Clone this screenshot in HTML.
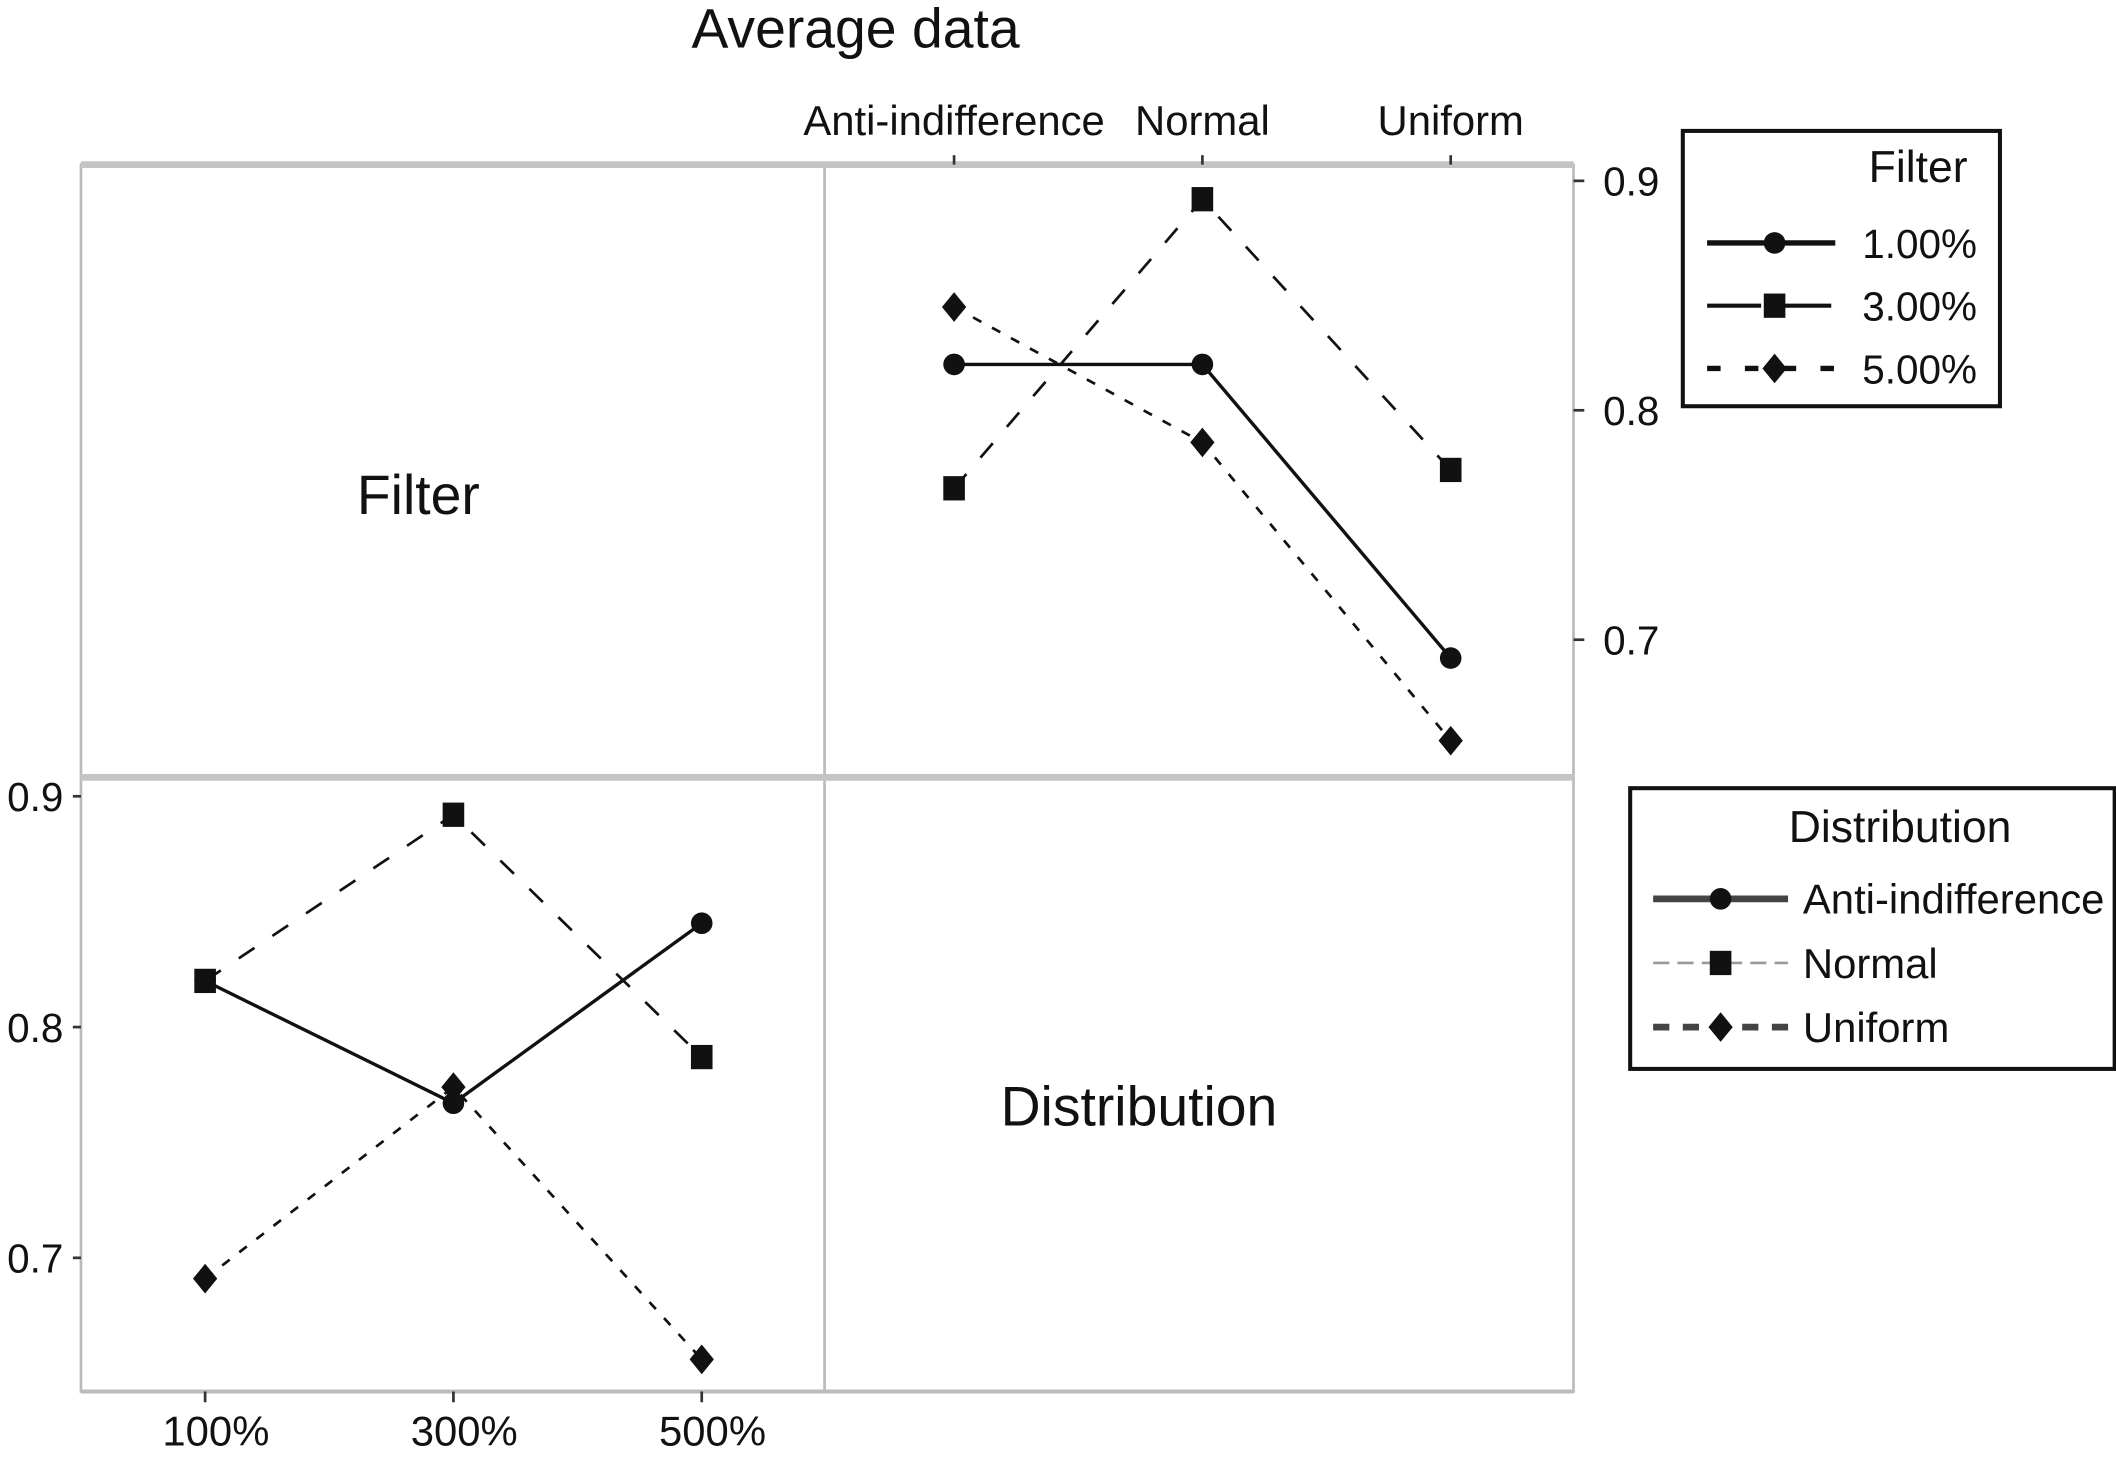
<!DOCTYPE html>
<html><head><meta charset="utf-8"><style>
html,body{margin:0;padding:0;background:#fff;}
svg{display:block;}
text{font-family:"Liberation Sans",Arial,sans-serif;fill:#111;}
</style></head><body>
<svg id="chart" width="2116" height="1463" viewBox="0 0 1568 1084" preserveAspectRatio="none" xmlns="http://www.w3.org/2000/svg">
<rect width="1568" height="1084" fill="#fff"/>
<text x="634" y="35" font-size="41" text-anchor="middle">Average data</text>
<g id="frame">
  <rect x="60" y="122" width="1106" height="909" fill="none" stroke="#bbb" stroke-width="2"/>
  <line x1="611" y1="122" x2="611" y2="1031" stroke="#bbb" stroke-width="2"/>
  <line x1="60" y1="122" x2="1166" y2="122" stroke="#c4c4c4" stroke-width="5"/>
  <line x1="60" y1="576" x2="1166" y2="576" stroke="#c4c4c4" stroke-width="5"/>
  <line x1="60" y1="1031" x2="1166" y2="1031" stroke="#bbb" stroke-width="3"/>
</g>
<text x="310" y="381" font-size="41" text-anchor="middle">Filter</text>
<text x="844" y="834" font-size="41" text-anchor="middle">Distribution</text>
<g id="tr"></g>
<g id="bl"></g>
<g id="legends">
  <rect x="1247" y="97" width="235" height="204" fill="#fff" stroke="#111" stroke-width="3"/>
  <text x="1458" y="135" font-size="33" text-anchor="end">Filter</text>
  <rect x="1208" y="584" width="359" height="208" fill="#fff" stroke="#111" stroke-width="3"/>
  <text x="1408" y="624" font-size="33" text-anchor="middle">Distribution</text>
</g>
</svg>
<script>
const distCats = ["Anti-indifference","Normal","Uniform"];
const filterCats = ["1.00%","3.00%","5.00%"];
const filterTickLabels = ["100%","300%","500%"];
const yTicks = [0.9,0.8,0.7];
// Top-right panel: lines = filter, x = distribution
const filter1 = [0.820,0.820,0.692];
const filter3 = [0.766,0.892,0.774];
const filter5 = [0.845,0.786,0.656];
// Bottom-left panel: lines = distribution, x = filter
const distAnti = [0.820,0.767,0.845];
const distNormal = [0.820,0.892,0.787];
const distUniform = [0.691,0.774,0.656];

const NS="http://www.w3.org/2000/svg";
const svg=document.getElementById('chart');
function mk(tag,attrs,parent){const e=document.createElementNS(NS,tag);for(const k in attrs)e.setAttribute(k,attrs[k]);(parent||svg).appendChild(e);return e;}
const xTR=i=>707+i*184;
const yTR=v=>304-(v-0.8)*1700;
const xBL=i=>152+i*184;
const yBL=v=>761-(v-0.8)*1710;
const styles=[
 {dash:"",w:2.5,marker:"circle"},
 {dash:"14 16",w:2,marker:"square"},
 {dash:"7 9",w:2,marker:"diamond"}
];
function marker(type,x,y,g){
  let e;
  if(type==="circle") e=mk('circle',{cx:x,cy:y,r:8,fill:'#111'},g);
  else if(type==="square") e=mk('rect',{x:x-8,y:y-9,width:16,height:18,fill:'#111'},g);
  else e=mk('polygon',{points:`${x},${y-11} ${x+9},${y} ${x},${y+11} ${x-9},${y}`,fill:'#111'},g);
  return e;
}
function series(g,vals,xf,yf,st,name){
  const pts=vals.map((v,i)=>xf(i)+","+yf(v)).join(" ");
  const pl=mk('polyline',{points:pts,fill:'none',stroke:'#111','stroke-width':st.w,'stroke-dasharray':st.dash},g);
  
  
  vals.forEach((v,i)=>{const m=marker(st.marker,xf(i),yf(v),g);
    
    });
}
const tr=document.getElementById('tr'), bl=document.getElementById('bl');
distCats.forEach((c,i)=>{const t=mk('text',{x:xTR(i),y:100,'font-size':31,'text-anchor':'middle'},tr);t.textContent=c;
  
  
  mk('line',{x1:xTR(i),y1:115,x2:xTR(i),y2:122,stroke:'#333','stroke-width':2},tr);});
yTicks.forEach(v=>{const t=mk('text',{x:1188,y:yTR(v)+11,'font-size':30},tr);t.textContent=v.toFixed(1);
  
  
  mk('line',{x1:1166,y1:yTR(v),x2:1174,y2:yTR(v),stroke:'#333','stroke-width':2},tr);});
yTicks.forEach(v=>{const t=mk('text',{x:47,y:yBL(v)+11,'font-size':30,'text-anchor':'end'},bl);t.textContent=v.toFixed(1);
  
  
  mk('line',{x1:54,y1:yBL(v),x2:60,y2:yBL(v),stroke:'#333','stroke-width':2},bl);});
filterTickLabels.forEach((c,i)=>{const t=mk('text',{x:xBL(i)+8,y:1071,'font-size':31,'text-anchor':'middle'},bl);t.textContent=c;
  
  
  mk('line',{x1:xBL(i),y1:1031,x2:xBL(i),y2:1039,stroke:'#333','stroke-width':2},bl);});
series(tr,filter1,xTR,yTR,styles[0],'filter-1pct');
series(tr,filter3,xTR,yTR,styles[1],'filter-3pct');
series(tr,filter5,xTR,yTR,styles[2],'filter-5pct');
series(bl,distAnti,xBL,yBL,styles[0],'dist-anti-indifference');
series(bl,distNormal,xBL,yBL,styles[1],'dist-normal');
series(bl,distUniform,xBL,yBL,styles[2],'dist-uniform');
const lg=document.getElementById('legends');
const legStyles=[{dash:"",w:4},{dash:"40 12",w:3},{dash:"10 18",w:4}];
filterCats.forEach((c,i)=>{const y=180+i*46.5;
  const l=mk('line',{x1:1265,y1:y,x2:1360,y2:y,stroke:'#111','stroke-width':legStyles[i].w,'stroke-dasharray':legStyles[i].dash},lg);
  
  
  marker(styles[i].marker,1315,y,lg);
  const t=mk('text',{x:1380,y:y+11,'font-size':30},lg);t.textContent=c;
  
  });
distCats.forEach((c,i)=>{const y=666+i*47.5;
  const l=mk('line',{x1:1225,y1:y,x2:1325,y2:y,stroke:i===1?'#999':'#444','stroke-width':i===1?2:5,'stroke-dasharray':['', '12 6','12 10'][i]},lg);
  
  
  marker(styles[i].marker,1275,y,lg);
  const t=mk('text',{x:1336,y:y+11,'font-size':31},lg);t.textContent=c;
  
  });
</script>
</body></html>
